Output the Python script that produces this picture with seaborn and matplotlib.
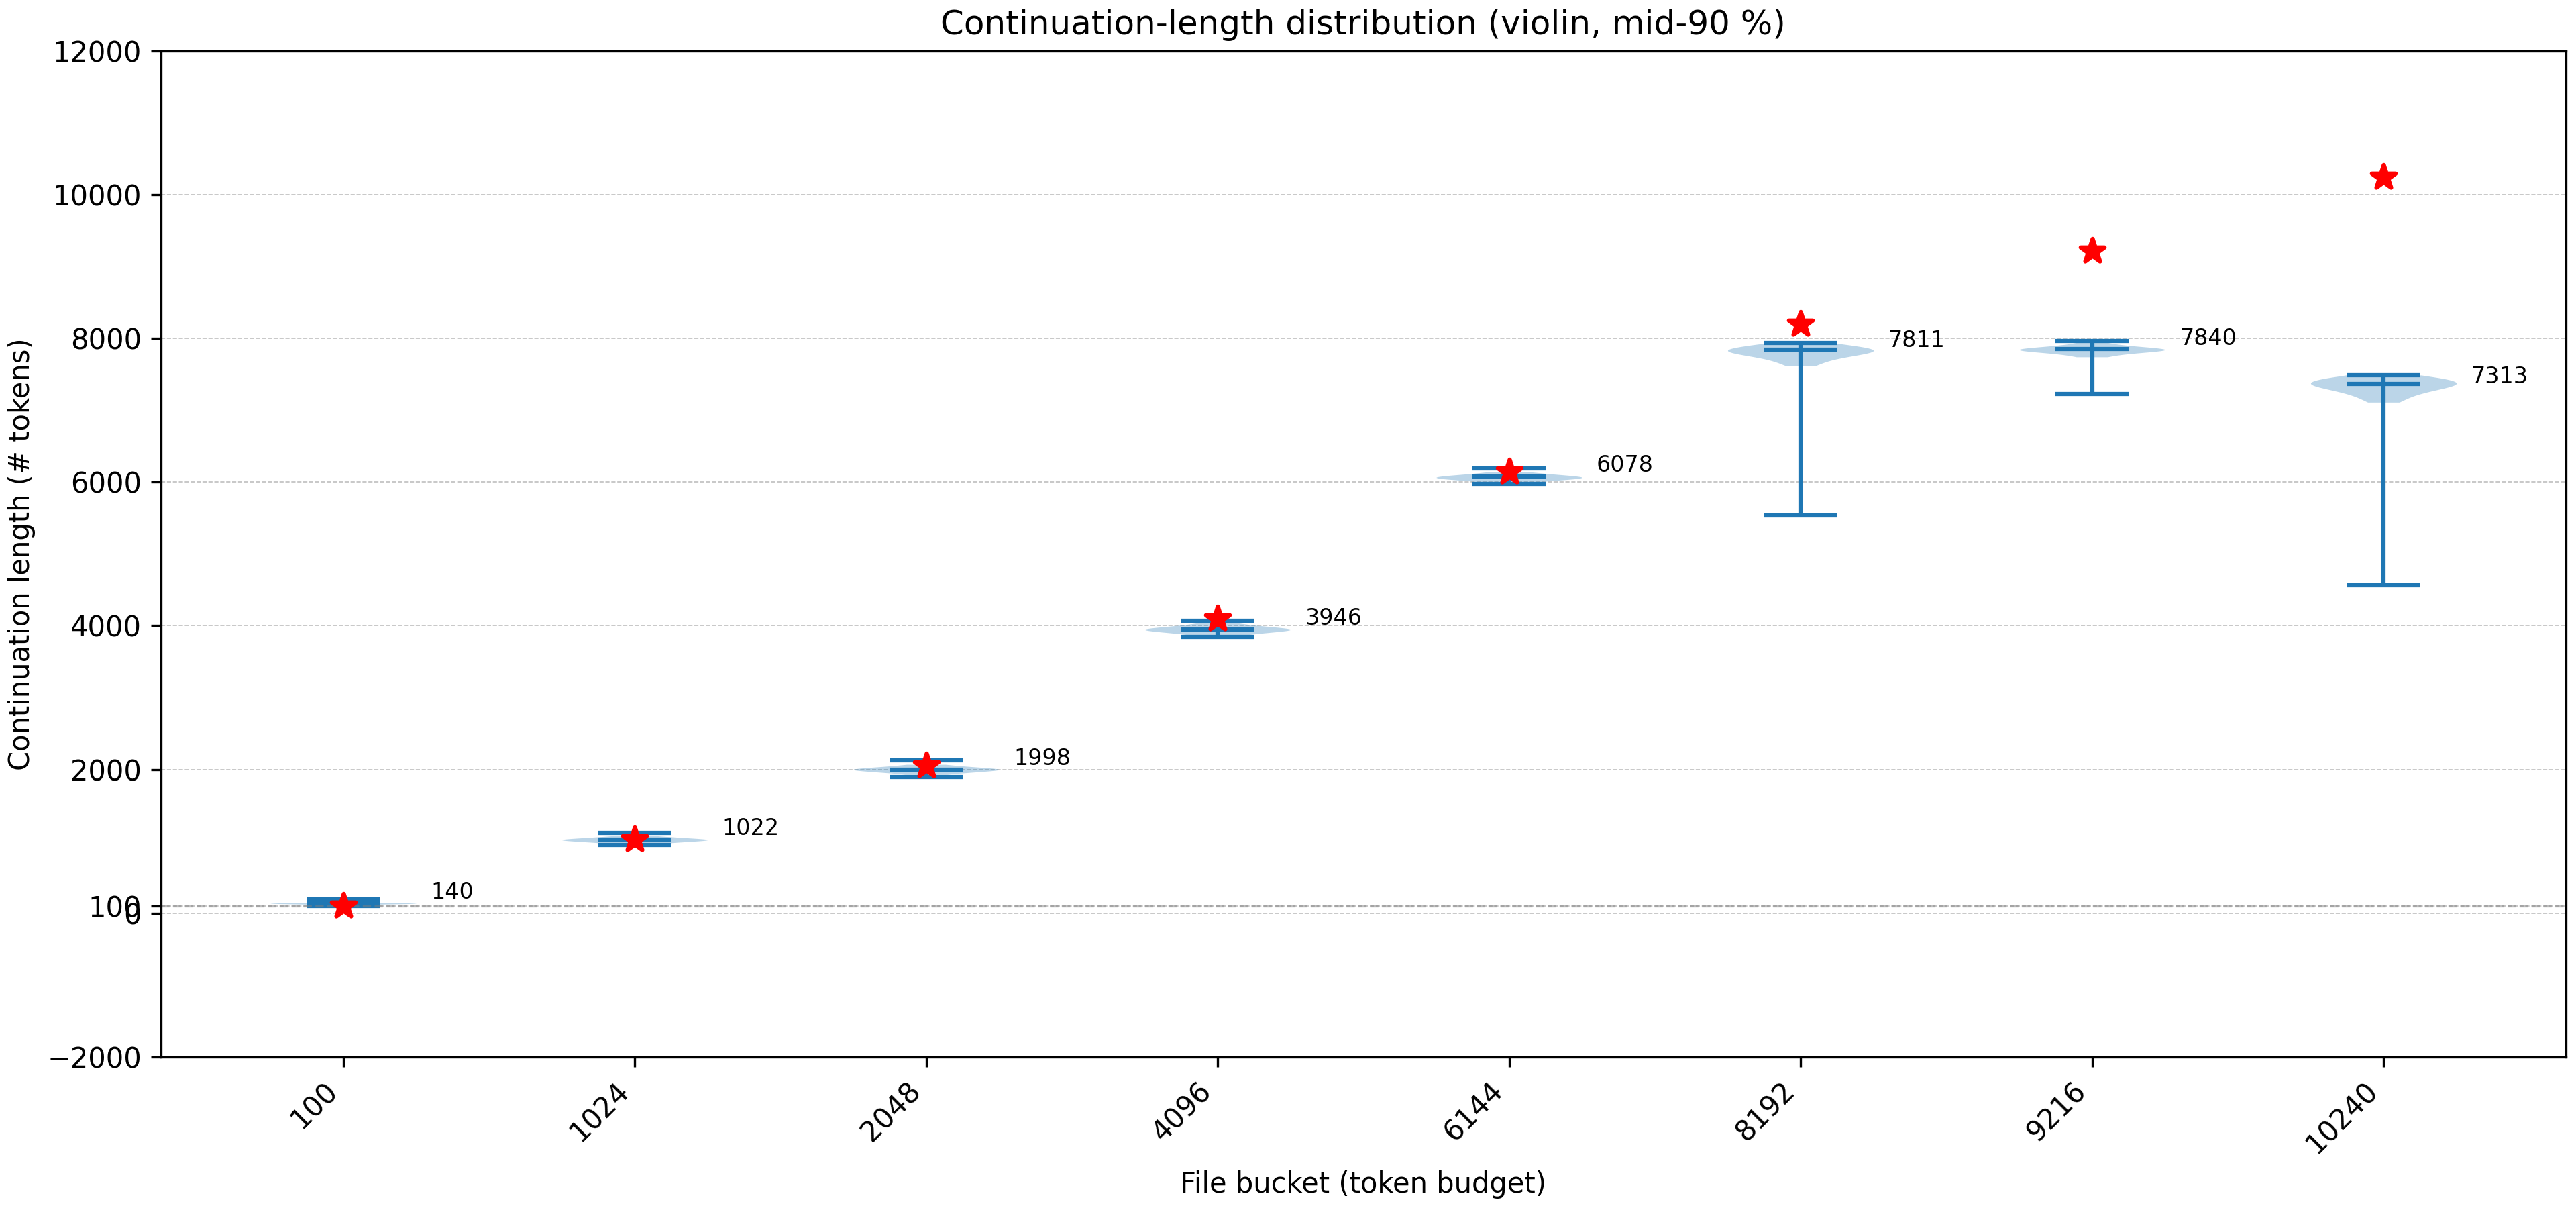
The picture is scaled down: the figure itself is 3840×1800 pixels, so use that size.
import numpy as np
import pandas as pd
import matplotlib
matplotlib.use("Agg")
import matplotlib.pyplot as plt
import seaborn as sns

# ---- data ----
buckets = [100, 1024, 2048, 4096, 6144, 8192, 9216, 10240]
bucket_labels = [str(b) for b in buckets]

# extrema / middle line of each violin (mid-90 % of data)
mins = [103, 949, 1894, 3846, 5975, 5532, 7229, 4562]
maxs = [196, 1118, 2126, 4072, 6193, 7937, 7966, 7487]
mids = [140, 1025, 1998, 3949, 6072, 7842, 7851, 7364]

# annotated values
label_vals = [140, 1022, 1998, 3946, 6078, 7811, 7840, 7313]

# representative core samples per bucket (shape of the violin body)
core_100 = [118, 125, 129, 132, 134, 136, 137, 138, 139, 141, 143, 145, 148, 152, 160]
core_1024 = [965, 980, 992, 1000, 1007, 1013, 1018, 1022, 1026, 1031, 1037, 1044, 1052, 1063, 1080]
core_2048 = [1930, 1950, 1963, 1973, 1981, 1988, 1994, 1999, 2004, 2010, 2017, 2025, 2035, 2048, 2070]
core_4096 = [3860, 3885, 3902, 3915, 3926, 3935, 3942, 3948, 3954, 3961, 3970, 3981, 3995, 4015, 4045]
core_6144 = [5995, 6015, 6028, 6038, 6046, 6053, 6059, 6065, 6071, 6078, 6086, 6095, 6106, 6120, 6145]
core_8192 = [7620, 7680, 7720, 7750, 7772, 7790, 7805, 7818, 7830, 7842, 7855, 7870, 7888, 7910, 7937]
core_9216 = [7740, 7775, 7795, 7810, 7820, 7828, 7835, 7841, 7847, 7854, 7862, 7872, 7885, 7905, 7940]
core_10240 = [7110, 7180, 7230, 7265, 7295, 7318, 7338, 7355, 7370, 7385, 7400, 7418, 7438, 7460, 7487]
cores = [core_100, core_1024, core_2048, core_4096, core_6144, core_8192, core_9216, core_10240]

# ---- long-form table for seaborn ----
rows = []
for lab, vals in zip(bucket_labels, cores):
    for v in vals:
        rows.append({"bucket": lab, "length": v})
df = pd.DataFrame(rows)

fig, ax = plt.subplots(figsize=(12.8, 6.0), dpi=300)
fig.subplots_adjust(left=0.0625, right=0.996, top=0.958, bottom=0.125)

sns.violinplot(data=df, x="bucket", y="length", order=bucket_labels,
               color="C0", saturation=1, width=0.5, cut=0, inner=None,
               density_norm="width", linewidth=0, gridsize=200,
               alpha=0.3, ax=ax)

pos = np.arange(len(buckets))
half = 0.125
ax.vlines(pos, mins, maxs, color="C0", lw=1.5, zorder=2)
ax.hlines(mins, pos - half, pos + half, color="C0", lw=1.5, zorder=2)
ax.hlines(maxs, pos - half, pos + half, color="C0", lw=1.5, zorder=2)
ax.hlines(mids, pos - half, pos + half, color="C0", lw=1.5, zorder=2)

ax.axhline(100, color="gray", ls="--", lw=0.8, alpha=0.5, zorder=2.5)

sns.scatterplot(x=pos, y=buckets, marker="*", s=80, color="red",
                edgecolor="red", linewidth=1.5, zorder=3, ax=ax, legend=False)

for p, v in zip(pos, label_vals):
    ax.text(p + 0.3, v, str(v), fontsize=8, ha="left", va="bottom")

ax.set_xlim(-0.625, len(buckets) - 1 + 0.625)
ax.set_ylim(-2000, 12000)
ax.set_yticks(list(range(-2000, 12001, 2000)) + [100])
ax.set_xticks(pos)
ax.set_xticklabels(bucket_labels, rotation=45, ha="right")
ax.yaxis.grid(True, linestyle="--", color="gray", lw=0.4, alpha=0.5)
ax.xaxis.grid(False)
ax.set_axisbelow(True)

ax.set_xlabel("File bucket (token budget)")
ax.set_ylabel("Continuation length (# tokens)")
ax.set_title("Continuation-length distribution (violin, mid-90 %)")

fig.savefig("out.png", dpi=300)
